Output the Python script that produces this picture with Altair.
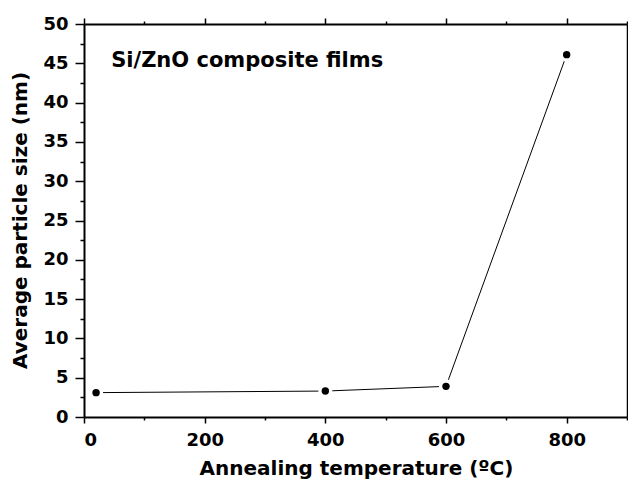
import altair as alt
import pandas as pd

temps = [20, 400, 600, 800]
sizes = [3.1, 3.3, 3.9, 46.1]
x_ticks = [0, 100, 200, 300, 400, 500, 600, 700, 800, 900]
y_ticks = [i * 2.5 for i in range(21)]
note_text = ["Si/ZnO composite films"]
note_x = [45]
note_y = [45.3]

df = pd.DataFrame({"t": temps, "s": sizes})
note = pd.DataFrame({"x": note_x, "y": note_y, "label": note_text})

FONT = "DejaVu Sans"
xscale = alt.Scale(domain=[0, 900], nice=False, zero=False)
yscale = alt.Scale(domain=[0, 50], nice=False, zero=False)

x_major = "datum.value % 200 === 0"
y_major = "datum.value % 5 === 0"

x_bottom = alt.Axis(
    orient="bottom", values=x_ticks, grid=False,
    labelExpr=f"{x_major} ? datum.label : ''",
    tickSize={"condition": {"test": x_major, "value": 6}, "value": 3},
    labelFont=FONT, labelFontSize=18, labelFontWeight="bold", labelColor="black",
    labelPadding=8, title="Annealing temperature (ºC)", titleFont=FONT,
    titleFontSize=20, titleFontWeight="bold", titleColor="black",
    titleX=272, titleY=51, titleBaseline="middle", titleAlign="center",
    domainColor="black", domainWidth=2, tickColor="black", tickWidth=1.5,
)
y_left = alt.Axis(
    orient="left", values=y_ticks, grid=False,
    labelExpr=f"{y_major} ? datum.label : ''",
    tickSize={"condition": {"test": y_major, "value": 9}, "value": 4},
    labelFont=FONT, labelFontSize=18, labelFontWeight="bold", labelColor="black",
    labelPadding=7, title="Average particle size (nm)", titleFont=FONT,
    titleFontSize=20, titleFontWeight="bold", titleColor="black",
    titleX=-64, titleY=196, titleAngle=270, titleBaseline="middle", titleAlign="center",
    domainColor="black", domainWidth=2, tickColor="black", tickWidth=1.5,
)
x_top = alt.Axis(
    orient="top", values=x_ticks, grid=False, labels=False, title=None,
    tickSize={"condition": {"test": x_major, "value": 6}, "value": 3},
    domainColor="black", domainWidth=2, tickColor="black", tickWidth=1.5,
)
y_right = alt.Axis(
    orient="right", grid=False, labels=False, ticks=False, title=None,
    domainColor="black", domainWidth=1.5,
)

base = alt.Chart(df)

line = base.mark_line(color="black", strokeWidth=1).encode(
    x=alt.X("t:Q", scale=xscale, axis=x_bottom),
    y=alt.Y("s:Q", scale=yscale, axis=y_left),
)
halo = base.mark_point(filled=True, color="white", opacity=1, size=200).encode(
    x=alt.X("t:Q", scale=xscale, axis=None),
    y=alt.Y("s:Q", scale=yscale, axis=None),
)
dots = base.mark_point(filled=True, color="black", opacity=1, size=55).encode(
    x=alt.X("t:Q", scale=xscale, axis=x_top),
    y=alt.Y("s:Q", scale=yscale, axis=y_right),
)
text = alt.Chart(note).mark_text(
    align="left", baseline="middle", font=FONT, fontSize=21, fontWeight="bold", color="black"
).encode(
    x=alt.X("x:Q", scale=xscale, axis=None),
    y=alt.Y("y:Q", scale=yscale, axis=None),
    text="label:N",
)

chart = (
    alt.layer(line, halo, dots, text)
    .resolve_axis(x="independent", y="independent")
    .properties(
        width=543, height=393,
        autosize=alt.AutoSizeParams(type="none"),
        padding={"left": 76, "top": 16, "right": 1, "bottom": 62},
        background="white",
    )
    .configure_view(stroke=None)
)

chart.save("out.html", embed_options={"renderer": "svg", "actions": False})
